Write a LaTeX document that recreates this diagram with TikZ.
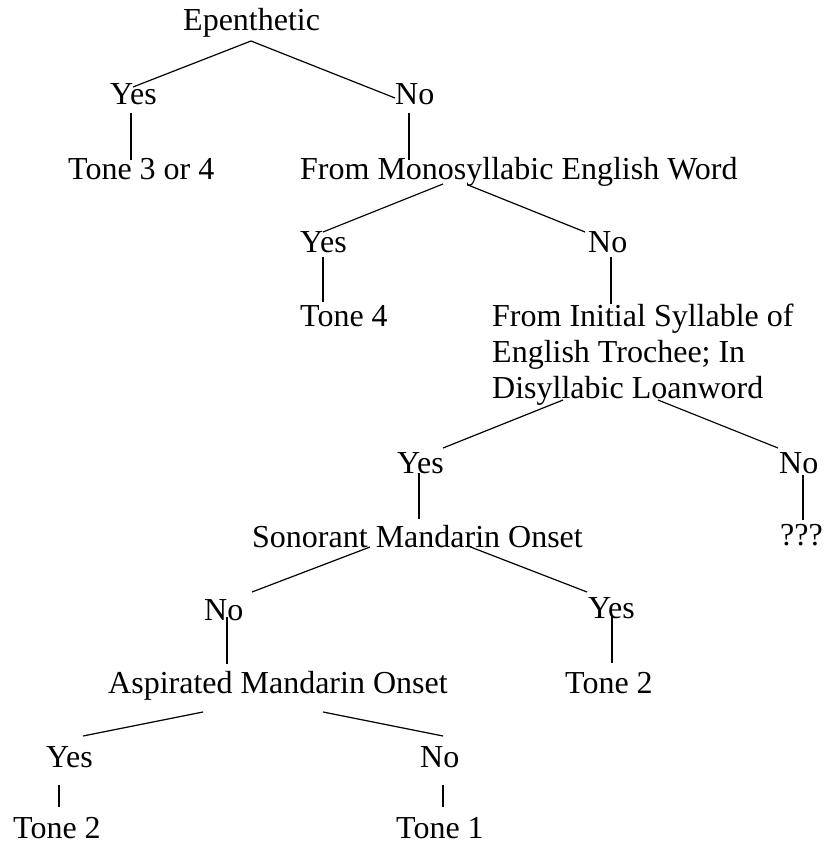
\documentclass[tikz,border=0pt]{standalone}
\usepackage{fontspec}
\setmainfont{Liberation Serif}
\begin{document}
\begin{tikzpicture}[x=1pt,y=-1pt,
  lbl/.style={anchor=base west,inner sep=0pt,font=\fontsize{32}{36}\selectfont},
  edge/.style={line width=1.2pt}]
\useasboundingbox (0,0) rectangle (827,845);
% texts
\node[lbl] (epen) at (183,31) {Epenthetic};
\node[lbl] (y1) at (110,105) {Yes};
\node[lbl] (n1) at (395,105) {No};
\node[lbl] (t34) at (68,179) {Tone 3 or 4};
\node[lbl] (mono) at (300,179) {From Monosyllabic English Word};
\node[lbl] (y2) at (300,252) {Yes};
\node[lbl] (n2) at (588,252) {No};
\node[lbl] (t4) at (300,326) {Tone 4};
\node[lbl,align=left] (init) at (492,398) {From Initial Syllable of\\English Trochee; In\\Disyllabic Loanword};
\node[lbl] (y3) at (397,473) {Yes};
\node[lbl] (n3) at (779,473) {No};
\node[lbl] (son) at (252,547) {Sonorant Mandarin Onset};
\node[lbl] (q) at (780,545) {???};
\node[lbl] (n4) at (204,620) {No};
\node[lbl] (y4) at (588,618) {Yes};
\node[lbl] (asp) at (108,693) {Aspirated Mandarin Onset};
\node[lbl] (t2r) at (565,693) {Tone 2};
\node[lbl] (y5) at (46,767) {Yes};
\node[lbl] (n5) at (420,767) {No};
\node[lbl] (t2) at (13,838) {Tone 2};
\node[lbl] (t1) at (396,838) {Tone 1};
% connector end points
\coordinate (epenB) at (251,41);
\coordinate (y1T) at (133,87);
\coordinate (n1T) at (395,98);
\coordinate (y1B) at (131,113);
\coordinate (t34T) at (131,160);
\coordinate (n1B) at (409,113);
\coordinate (monoT) at (409,160);
\coordinate (monoBL) at (443,184);
\coordinate (monoBR) at (468,185);
\coordinate (y2T) at (323,232);
\coordinate (n2T) at (585,232);
\coordinate (y2B) at (323,257);
\coordinate (t4T) at (323,302);
\coordinate (n2B) at (611,257);
\coordinate (initT) at (611,304);
\coordinate (initBL) at (563,400);
\coordinate (initBR) at (658,400);
\coordinate (y3T) at (443,448);
\coordinate (n3T) at (778,448);
\coordinate (y3B) at (419,473);
\coordinate (sonT) at (419,519);
\coordinate (n3B) at (803,475);
\coordinate (qT) at (803,520);
\coordinate (sonBL) at (370,547);
\coordinate (sonBR) at (468,546);
\coordinate (n4T) at (252,592);
\coordinate (y4T) at (587,592);
\coordinate (n4B) at (227,617);
\coordinate (aspT) at (227,664);
\coordinate (y4B) at (612,615);
\coordinate (t2rT) at (612,663);
\coordinate (aspBL) at (203,712);
\coordinate (aspBR) at (323,712);
\coordinate (y5T) at (83,736);
\coordinate (n5T) at (443,736);
\coordinate (y5B) at (59,785);
\coordinate (t2T) at (59,807);
\coordinate (n5B) at (443,785);
\coordinate (t1T) at (443,807);
% connectors
\draw[edge] (epenB) -- (y1T);
\draw[edge] (epenB) -- (n1T);
\draw[edge] (y1B) -- (t34T);
\draw[edge] (n1B) -- (monoT);
\draw[edge] (monoBL) -- (y2T);
\draw[edge] (monoBR) -- (n2T);
\draw[edge] (y2B) -- (t4T);
\draw[edge] (n2B) -- (initT);
\draw[edge] (initBL) -- (y3T);
\draw[edge] (initBR) -- (n3T);
\draw[edge] (y3B) -- (sonT);
\draw[edge] (n3B) -- (qT);
\draw[edge] (sonBL) -- (n4T);
\draw[edge] (sonBR) -- (y4T);
\draw[edge] (n4B) -- (aspT);
\draw[edge] (y4B) -- (t2rT);
\draw[edge] (aspBL) -- (y5T);
\draw[edge] (aspBR) -- (n5T);
\draw[edge] (y5B) -- (t2T);
\draw[edge] (n5B) -- (t1T);
\end{tikzpicture}
\end{document}
